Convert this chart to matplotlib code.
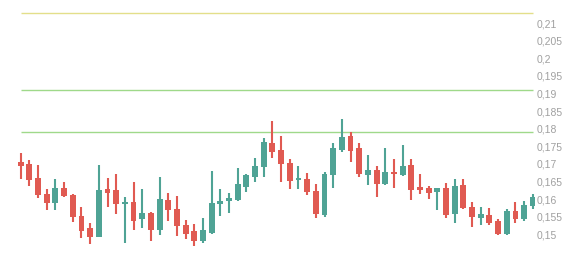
# candlestick chart with horizontal level lines
import numpy as np
import matplotlib
matplotlib.use("Agg")
import matplotlib.pyplot as plt
from matplotlib.ticker import FuncFormatter

# OHLC data ###############################
opens = [0.1706, 0.1701, 0.1661, 0.1615, 0.1590, 0.1632, 0.1612, 0.1552, 0.1519, 0.1492,
         0.1630, 0.1626, 0.1587, 0.1591, 0.1543, 0.1561, 0.1513, 0.1597, 0.1573, 0.1526,
         0.1509, 0.1481, 0.1504, 0.1585, 0.1594, 0.1598, 0.1635, 0.1663, 0.1692, 0.1760,
         0.1741, 0.1703, 0.1654, 0.1658, 0.1623, 0.1555, 0.1669, 0.1739, 0.1780, 0.1745,
         0.1669, 0.1683, 0.1643, 0.1677, 0.1669, 0.1697, 0.1635, 0.1632, 0.1619, 0.1632,
         0.1557, 0.1640, 0.1578, 0.1545, 0.1555, 0.1539, 0.1500, 0.1566, 0.1543, 0.1580]
highs = [0.1732, 0.1711, 0.1697, 0.1629, 0.1657, 0.1649, 0.1615, 0.1578, 0.1532, 0.1697,
         0.1661, 0.1671, 0.1607, 0.1649, 0.1629, 0.1563, 0.1663, 0.1617, 0.1609, 0.1540,
         0.1528, 0.1546, 0.1680, 0.1629, 0.1617, 0.1689, 0.1671, 0.1717, 0.1773, 0.1822,
         0.1779, 0.1713, 0.1694, 0.1673, 0.1642, 0.1678, 0.1759, 0.1828, 0.1792, 0.1759,
         0.1725, 0.1695, 0.1745, 0.1715, 0.1754, 0.1714, 0.1671, 0.1637, 0.1632, 0.1645,
         0.1656, 0.1656, 0.1591, 0.1577, 0.1574, 0.1543, 0.1571, 0.1591, 0.1595, 0.1614]
lows = [0.1656, 0.1638, 0.1604, 0.1570, 0.1570, 0.1607, 0.1534, 0.1489, 0.1472, 0.1491,
        0.1578, 0.1559, 0.1476, 0.1513, 0.1517, 0.1482, 0.1497, 0.1539, 0.1496, 0.1487,
        0.1467, 0.1475, 0.1502, 0.1553, 0.1561, 0.1595, 0.1619, 0.1650, 0.1663, 0.1718,
        0.1650, 0.1630, 0.1630, 0.1611, 0.1545, 0.1550, 0.1632, 0.1735, 0.1706, 0.1664,
        0.1640, 0.1607, 0.1641, 0.1632, 0.1667, 0.1598, 0.1615, 0.1601, 0.1569, 0.1547,
        0.1533, 0.1571, 0.1522, 0.1526, 0.1526, 0.1498, 0.1498, 0.1531, 0.1538, 0.1571]
closes = [0.1695, 0.1655, 0.1612, 0.1590, 0.1632, 0.1610, 0.1548, 0.1510, 0.1493, 0.1626,
          0.1618, 0.1587, 0.1591, 0.1539, 0.1561, 0.1513, 0.1600, 0.1568, 0.1523, 0.1502,
          0.1482, 0.1511, 0.1589, 0.1595, 0.1603, 0.1643, 0.1669, 0.1694, 0.1763, 0.1734,
          0.1701, 0.1652, 0.1659, 0.1620, 0.1558, 0.1671, 0.1745, 0.1777, 0.1738, 0.1671,
          0.1683, 0.1643, 0.1676, 0.1672, 0.1694, 0.1626, 0.1626, 0.1618, 0.1632, 0.1555,
          0.1638, 0.1576, 0.1548, 0.1557, 0.1533, 0.1501, 0.1567, 0.1543, 0.1583, 0.1605]

levels = [0.2128, 0.1909, 0.1791]
level_colors = ['#e3df8a', '#9fd98a', '#9fd98a']
yticks = [0.15, 0.155, 0.16, 0.165, 0.17, 0.175, 0.18, 0.185, 0.19, 0.195, 0.2, 0.205, 0.21]

UP = '#4fa395'
DOWN = '#e05a52'

# plot ####################################
fig = plt.figure(figsize=(5.84, 2.58), dpi=100, facecolor='w')
ax = fig.add_axes([0, 0, 535 / 584, 1])

o = np.array(opens)
h = np.array(highs)
l = np.array(lows)
c = np.array(closes)
x = np.arange(len(o))
cols = np.where(c >= o, UP, DOWN)

for y, col in zip(levels, level_colors):
    ax.hlines(y, 0, len(o) - 1, color=col, lw=1.0, zorder=1)

ax.vlines(x, l, h, colors=cols, lw=1.5, zorder=2)
bottom = np.minimum(o, c)
height = np.maximum(np.abs(c - o), 0.0005)
ax.bar(x, height, 0.68, bottom=bottom, color=cols, zorder=3)

ax.set_xlim(-2.385, 59.25)
ax.set_ylim(0.14326, 0.2166)

ax.yaxis.tick_right()
ax.set_yticks(yticks)
ax.yaxis.set_major_formatter(FuncFormatter(lambda v, p: f"{v:.3f}".rstrip('0').replace('.', ',')))
ax.tick_params(axis='y', length=0, pad=1.5, labelsize=7.5, labelcolor='#a0a0a0')
for lab in ax.get_yticklabels():
    lab.set_family('Liberation Sans')
ax.set_xticks([])
for s in ax.spines.values():
    s.set_visible(False)

fig.savefig('out.png', dpi=100, facecolor='w')
